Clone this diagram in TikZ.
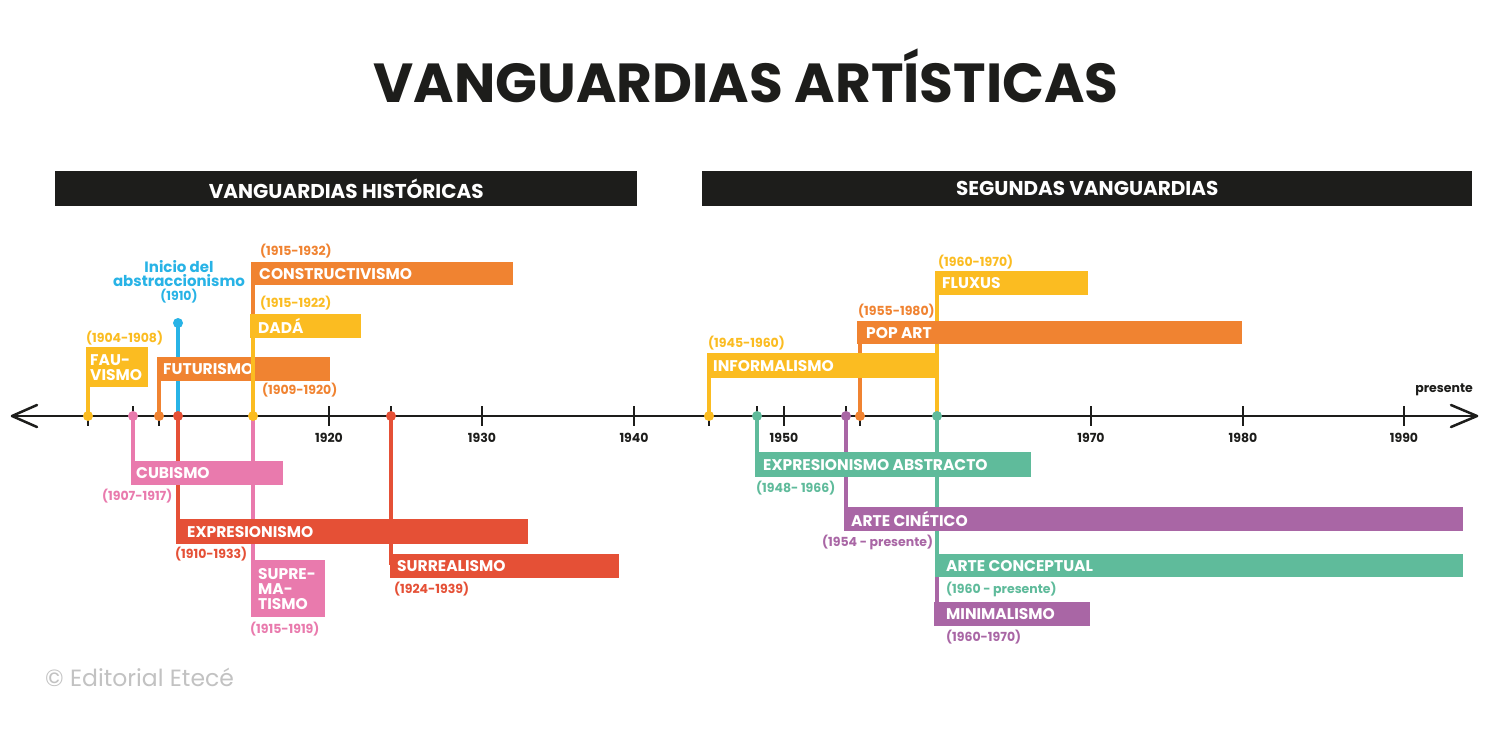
\documentclass[tikz,border=0pt]{standalone}
\usepackage{fontspec}
\setmainfont{Poppins}
\definecolor{cy}{HTML}{FBBC21}
\definecolor{co}{HTML}{F08331}
\definecolor{cp}{HTML}{E97AAD}
\definecolor{cr}{HTML}{E55036}
\definecolor{cb}{HTML}{28B3E6}
\definecolor{cg}{HTML}{5FBB9B}
\definecolor{cv}{HTML}{A966A5}
\definecolor{ck}{HTML}{1D1D1B}
\definecolor{cf}{HTML}{C2C2C2}
\newcommand\mkbar[8]{%
  \node[barbox=#2, minimum width={(#5-#3)*1pt}, minimum height={(#6-#4)*1pt}] (#1) at (#3,#4) {};
  \node[bartext] (#1t) at ([xshift=#7pt]#1.west) {#8};}
\begin{document}
\begin{tikzpicture}[x=1pt,y=-1pt,
  stem/.style={line width=4.5pt, draw=#1},
  dot/.style={circle, fill=#1, inner sep=0pt, minimum size=10pt},
  barbox/.style={fill=#1, draw=none, inner sep=0pt, anchor=north west},
  bartext/.style={text=white, font=\fontsize{15.5}{15}\selectfont\bfseries, inner sep=0pt, anchor=west, align=left},
  datetext/.style={text=#1, font=\fontsize{12.5}{13}\selectfont\bfseries, inner sep=0pt, anchor=west},
  yeartext/.style={font=\fontsize{12.5}{13}\selectfont\bfseries, text=ck, inner sep=0pt},
  tickmark/.style={line width=2pt, draw=ck},
  axisline/.style={line width=2.5pt, draw=ck, line cap=round, line join=round},
  headbox/.style={fill=ck, inner sep=0pt, anchor=north west},
  headtext/.style={text=white, font=\fontsize{20}{20}\selectfont\bfseries, inner sep=0pt}]
\useasboundingbox (0,0) rectangle (1493,732);
\fill[white] (0,0) rectangle (1493,732);

% title
\node[font=\fontsize{55}{55}\selectfont\bfseries, text=ck, inner sep=0pt, anchor=base] (title) at (746,102) {VANGUARDIAS ARTÍSTICAS};

% headers
\node[headbox, minimum width=582pt, minimum height=35pt] (hl) at (55,171) {};
\node[headtext] (hlt) at (hl.center) {VANGUARDIAS HISTÓRICAS};
\node[headbox, minimum width=770pt, minimum height=35pt] (hr) at (702,171) {};
\node[headtext] (hrt) at (hr.center) {SEGUNDAS VANGUARDIAS};

% axis
\coordinate (axL) at (12,416);
\coordinate (axR) at (1477,416);
\draw[axisline] (axL) -- (axR);
\draw[axisline] (37,405) -- (axL) -- (37,427);
\draw[axisline] (1451,405) -- (axR) -- (1451,427);
\foreach \x in {88,133,159,178,253,329,391,482,634,709,757,784,846,860,937,1091,1243,1404}
  \draw[tickmark] (\x,406) -- (\x,426);
\foreach \x/\y in {329/1920,482/1930,634/1940,784/1950,1091/1970,1243/1980,1404/1990}
  \node[yeartext] (y\y) at (\x,438) {\y};
\node[yeartext, anchor=east] (pres) at (1473,390) {presente};

% axis points
\foreach \n/\x in {d1904/88,d1907/133,d1909/159,d1910/178,d1915/253,d1924/391,d1945/709,d1948/757,d1954/846,d1955/860,d1960/937}
  \coordinate (\n) at (\x,416);
\coordinate (abtop) at (178,323);

% stems under bars
\draw[stem=cb] (d1910) -- (abtop);
\draw[stem=cp] (d1907) -- (133,470);
\draw[stem=cr] (d1910) -- (178,530);
\draw[stem=cp] (d1915) -- (253,570);
\draw[stem=cr] (d1924) -- (391,565);
\draw[stem=cy] (d1904) -- (88,380);
\draw[stem=co] (d1909) -- (159,370);
\draw[stem=co] (253,270) -- (253,320);
\draw[stem=cy] (d1945) -- (709,370);
\draw[stem=co] (d1955) -- (860,335);
\draw[stem=cy] (d1960) -- (937,285);
\draw[stem=cg] (d1948) -- (757,465);
\draw[stem=cv] (d1954) -- (846,520);
\draw[stem=cg] (d1960) -- (937,565);
\draw[stem=cv] (937,570) -- (937,610);

% bars
\mkbar{fauv}{cy}{86}{347}{148}{387}{4}{\fontsize{15.5}{14}\selectfont FAU-\\VISMO}
\mkbar{fut}{co}{157}{357}{330}{381}{6}{FUTURISMO}
\mkbar{constr}{co}{251}{262}{513}{285}{8}{CONSTRUCTIVISMO}
\mkbar{dada}{cy}{250}{314}{361}{338}{8}{DADÁ}
\mkbar{cub}{cp}{131}{461}{283}{485}{5}{CUBISMO}
\mkbar{expr}{cr}{176}{519}{528}{544}{11}{EXPRESIONISMO}
\mkbar{supr}{cp}{251}{560}{325}{617}{7}{\fontsize{15.5}{17}\selectfont SUPRE-\\MA-\\TISMO}
\mkbar{surr}{cr}{390}{554}{619}{578}{7}{SURREALISMO}
\mkbar{inf}{cy}{707}{353}{937}{378}{6}{INFORMALISMO}
\mkbar{pop}{co}{857}{321}{1242}{344}{9}{POP ART}
\mkbar{flux}{cy}{935}{271}{1088}{295}{7}{FLUXUS}
\mkbar{exab}{cg}{755}{452}{1031}{477}{8}{EXPRESIONISMO ABSTRACTO}
\mkbar{cin}{cv}{844}{507}{1463}{531}{7}{ARTE CINÉTICO}
\mkbar{conc}{cg}{935}{554}{1463}{577}{11}{ARTE CONCEPTUAL}
\mkbar{mini}{cv}{934}{602}{1090}{626}{12}{MINIMALISMO}

% stem over futurismo
\draw[stem=cy] (d1915) -- (d1915 |- dada.south);

% dots
\node[dot=cb] (abdot) at (abtop) {};
\node[dot=cy] at (d1904) {};
\node[dot=cp] at (d1907) {};
\node[dot=co] at (d1909) {};
\node[dot=cr] at (d1910) {};
\node[dot=cy] at (d1915) {};
\node[dot=cr] at (d1924) {};
\node[dot=cy] at (d1945) {};
\node[dot=cg] at (d1948) {};
\node[dot=cv] at (d1954) {};
\node[dot=co] at (d1955) {};
\node[dot=cg] at (d1960) {};

% abstraccionismo label
\node[text=cb, font=\fontsize{15}{14}\selectfont\bfseries, align=center, inner sep=0pt] (abl) at (179,274) {Inicio del\\abstraccionismo};
\node[datetext=cb, anchor=center] (abd) at (179,296) {(1910)};

% dates
\node[datetext=cy] at (86,338) {(1904-1908)};
\node[datetext=co] at (262,390) {(1909-1920)};
\node[datetext=cy] at (260,303) {(1915-1922)};
\node[datetext=co] at (260,251) {(1915-1932)};
\node[datetext=cp] at (102,496) {(1907-1917)};
\node[datetext=cr] at (175,554) {(1910-1933)};
\node[datetext=cp] at (250,629) {(1915-1919)};
\node[datetext=cr] at (394,589) {(1924-1939)};
\node[datetext=cy] at (708,343) {(1945-1960)};
\node[datetext=co] at (858,311) {(1955-1980)};
\node[datetext=cy] at (938,262) {(1960-1970)};
\node[datetext=cg] at (756,488) {(1948- 1966)};
\node[datetext=cv] at (822,542) {(1954 - presente)};
\node[datetext=cg] at (946,589) {(1960 - presente)};
\node[datetext=cv] at (946,637) {(1960-1970)};

% footer
\node[text=cf, font=\fontsize{23.5}{23.5}\selectfont, anchor=west, inner sep=0pt] (foot) at (45,677) {© Editorial Etecé};
\end{tikzpicture}
\end{document}
